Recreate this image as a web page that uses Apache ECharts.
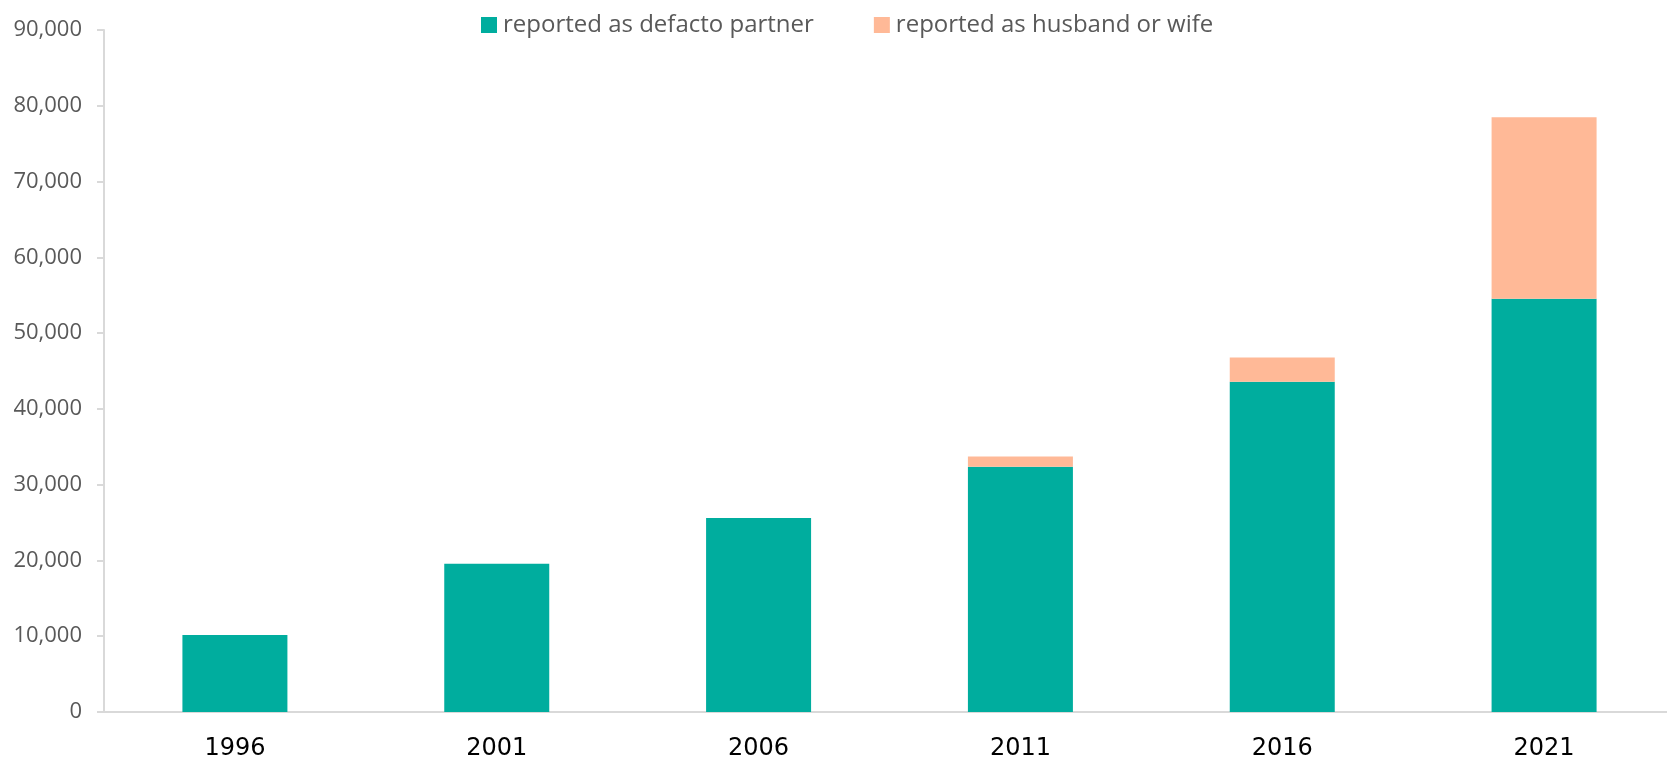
<!DOCTYPE html>
<html>
<head>
<meta charset="utf-8">
<script src="https://cdn.jsdelivr.net/npm/echarts@6/dist/echarts.min.js"></script>
<style>
  html, body { margin: 0; padding: 0; background: #fff; }
  #chart { width: 1667px; height: 759px; }
</style>
</head>
<body>
<div id="chart"></div>
<script>
// Census years
const years = ['1996', '2001', '2006', '2011', '2016', '2021'];
// Same-sex couples reported as de facto partners
const defactoPartner = [10160, 19560, 25590, 32360, 43570, 54530];
// Same-sex couples reported as husband or wife
const husbandOrWife = [null, null, null, 1360, 3210, 23970];
const seriesNames = ['reported as defacto partner', 'reported as husband or wife'];

const chart = echarts.init(document.getElementById('chart'), null, { renderer: 'canvas' });

chart.setOption({
  animation: false,
  backgroundColor: '#ffffff',
  legend: {
    top: 8,
    left: 476,
    itemWidth: 16,
    itemHeight: 16,
    itemGap: 60,
    icon: 'rect',
    textStyle: { fontFamily: 'Open Sans', fontSize: 24, color: '#595959', padding: [0, 0, 0, 1] },
    data: seriesNames
  },
  grid: {
    left: 104, width: 1571, top: 30, bottom: 47,
    containLabel: false, outerBoundsMode: 'none'
  },
  xAxis: {
    type: 'category',
    data: years,
    axisLine: { lineStyle: { color: '#d9d9d9', width: 2 } },
    axisTick: { show: false },
    axisLabel: { fontFamily: 'DejaVu Sans', fontSize: 24, color: '#000000', margin: 25 }
  },
  yAxis: {
    type: 'value',
    min: 0,
    max: 90000,
    interval: 10000,
    axisLine: { show: true, lineStyle: { color: '#d9d9d9', width: 2 } },
    axisTick: { show: true, length: 7, lineStyle: { color: '#d9d9d9', width: 2 } },
    splitLine: { show: false },
    axisLabel: {
      fontFamily: 'Open Sans', fontSize: 22, color: '#595959', margin: 22,
      formatter: v => v.toLocaleString('en-US')
    }
  },
  series: [
    {
      name: seriesNames[0],
      type: 'bar',
      stack: 'total',
      barWidth: 105,
      itemStyle: { color: '#00ad9e' },
      data: defactoPartner
    },
    {
      name: seriesNames[1],
      type: 'bar',
      stack: 'total',
      barWidth: 105,
      itemStyle: { color: '#ffb997' },
      data: husbandOrWife
    }
  ]
});
</script>
</body>
</html>
